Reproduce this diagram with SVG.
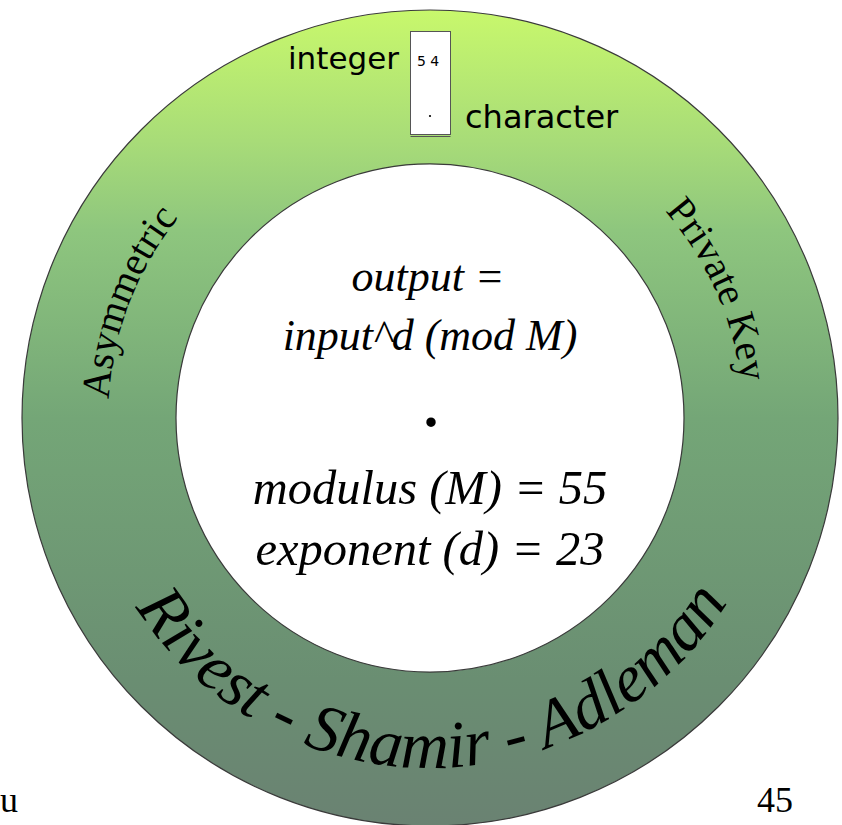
<svg xmlns="http://www.w3.org/2000/svg" xmlns:xlink="http://www.w3.org/1999/xlink" width="842" height="825" viewBox="0 0 842 825">
  <style>
    .sans { font-family: "DejaVu Sans", "Liberation Sans", sans-serif; fill: #000; }
    .serif { font-family: "Liberation Serif", "Times New Roman", serif; fill: #000; }
    .ital { font-style: italic; }
    .formula { text-anchor: middle; }
    .f-top { font-size: 44px; }
    .f-low { font-size: 48.5px; }
    .f-dot { font-size: 80px; }
    .arc { font-size: 40px; }
    .rsa { font-size: 67px; }
  </style>
  <defs>
    <linearGradient id="ringFill" gradientUnits="userSpaceOnUse" x1="0" y1="10" x2="0" y2="826">
      <stop offset="0" stop-color="#c8f86c"/>
      <stop offset="0.16" stop-color="#a8dc78"/>
      <stop offset="0.27" stop-color="#8ec67e"/>
      <stop offset="0.5" stop-color="#74a677"/>
      <stop offset="0.82" stop-color="#6a8e72"/>
      <stop offset="1" stop-color="#6a8272"/>
    </linearGradient>
    <!-- baseline arcs for the curved labels, centred on the ring centre (430,418) -->
    <path id="arcLeft" d="M 264 694 A 322 322 0 0 1 491 102"/>
    <path id="arcRight" d="M 299 124 A 322 322 0 0 1 561 712"/>
    <path id="arcBottom" d="M 80 421.05 A 350 350 0 0 0 780 414.95"/>
  </defs>

  <rect width="842" height="825" fill="#fff"/>

  <!-- ring -->
  <g id="ring">
    <path d="M 22 418 A 408 408 0 1 0 838 418 A 408 408 0 1 0 22 418 Z M 176 418 A 254 254 0 1 1 684 418 A 254 254 0 1 1 176 418 Z"
          fill="url(#ringFill)" fill-rule="evenodd" stroke="#3a3a3a" stroke-width="1.2"/>
  </g>

  <!-- integer / character lookup box -->
  <g id="cipher-box">
    <rect x="410.5" y="31.5" width="40" height="103" fill="#fff" stroke="#555" stroke-width="1"/>
    <line x1="410.5" y1="136.5" x2="450.5" y2="136.5" stroke="#555" stroke-width="1"/>
    <text class="sans" x="417" y="66" font-size="14">5 4</text>
    <circle cx="430" cy="116" r="1.1" fill="#000"/>
  </g>
  <g id="label-integer">
    <text class="sans" x="288" y="69" font-size="31">integer</text>
  </g>
  <g id="label-character">
    <text class="sans" x="465" y="128" font-size="32">character</text>
  </g>

  <!-- decryption formula -->
  <g id="formula">
    <text class="serif ital formula f-top" x="428" y="291">output =</text>
    <text class="serif ital formula f-top" x="430" y="350">input^d (mod M)</text>
    <text class="serif formula f-dot" x="431" y="426">.</text>
    <text class="serif ital formula f-low" x="430" y="504">modulus (M) = 55</text>
    <text class="serif ital formula f-low" x="430" y="565">exponent (d) = 23</text>
  </g>

  <!-- curved ring labels -->
  <g id="label-asymmetric">
    <text class="serif arc"><textPath xlink:href="#arcLeft" href="#arcLeft" startOffset="50%" text-anchor="middle">Asymmetric</textPath></text>
  </g>
  <g id="label-private-key">
    <text class="serif arc"><textPath xlink:href="#arcRight" href="#arcRight" startOffset="50%" text-anchor="middle">Private Key</textPath></text>
  </g>
  <g id="label-rsa">
    <text class="serif ital rsa"><textPath xlink:href="#arcBottom" href="#arcBottom" startOffset="50%" text-anchor="middle">Rivest - Shamir - Adleman</textPath></text>
  </g>

  <!-- page footer -->
  <g id="footer">
    <text class="serif" x="0" y="812" font-size="36">u</text>
    <text class="serif" x="757" y="812" font-size="36">45</text>
  </g>
</svg>
